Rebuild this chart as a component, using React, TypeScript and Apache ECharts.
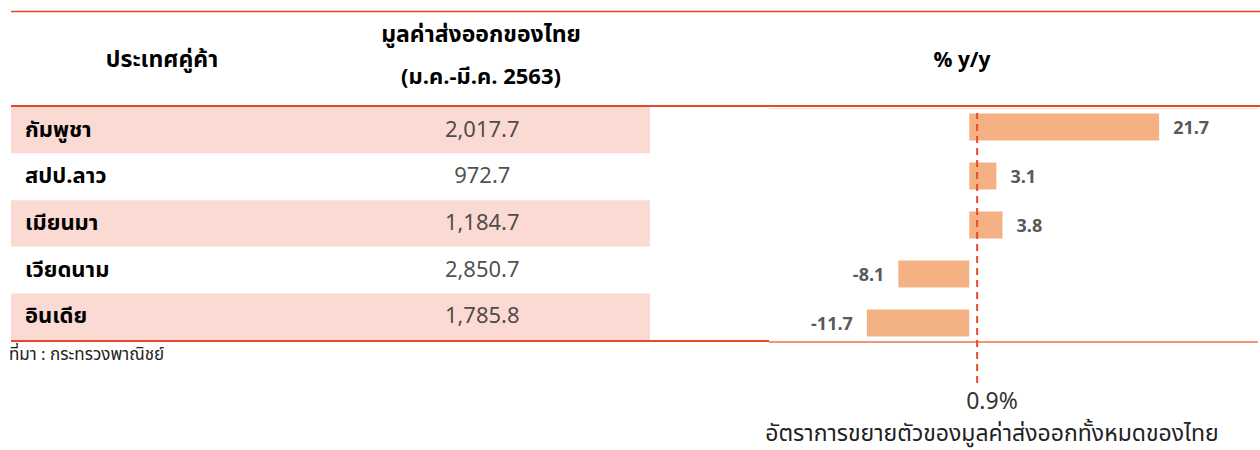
import React, { useEffect, useRef } from "react";
import * as echarts from "echarts";

const countries = ["กัมพูชา", "สปป.ลาว", "เมียนมา", "เวียดนาม", "อินเดีย"];
const exportValues = [2017.7, 972.7, 1184.7, 2850.7, 1785.8];
const growthYoY = [21.7, 3.1, 3.8, -8.1, -11.7];
const totalGrowth = 0.9;
const tableColumns = ["country", "value"];

const headerCountry = "ประเทศคู่ค้า";
const headerValue1 = "มูลค่าส่งออกของไทย";
const headerValue2 = "(ม.ค.-มี.ค. 2563)";
const headerGrowth = "% y/y";
const totalCaption = "อัตราการขยายตัวของมูลค่าส่งออกทั้งหมดของไทย";
const sourceNote = "ที่มา : กระทรวงพาณิชย์";

const THAI = '"Noto Sans Thai", "Noto Sans Thai UI", "Leelawadee UI", Tahoma, "Noto Sans", "DejaVu Sans", sans-serif';
const LINE = "#e44a26";

const fmt = (v: number) =>
  v.toLocaleString("en-US", { minimumFractionDigits: 1, maximumFractionDigits: 1 });

export default function App() {
  const ref = useRef<HTMLDivElement>(null);
  useEffect(() => {
    if (!ref.current) return;
    const chart = echarts.init(ref.current, undefined, { renderer: "svg" });
    const txt = (text: string, x: number, y: number, size: number, weight: any, fill: string, align = "center") => ({
      type: "text",
      x,
      y,
      silent: true,
      style: {
        text,
        fontSize: size,
        fontWeight: weight,
        fontFamily: THAI,
        fill,
        align,
        verticalAlign: "middle",
      },
    });
    const ln = (x1: number, y1: number, x2: number, y2: number, w: number, c: string) => ({
      type: "line",
      silent: true,
      shape: { x1, y1, x2, y2 },
      style: { stroke: c, lineWidth: w },
    });
    chart.setOption({
      animation: false,
      backgroundColor: "#ffffff",
      grid: [
        { left: 11, top: 107, width: 639, height: 233 },
        { left: 838, top: 102.5, width: 350, height: 245 },
        { left: 838, top: 113, width: 350, height: 270 },
      ],
      xAxis: [
        { gridIndex: 0, type: "category", data: tableColumns, show: false },
        { gridIndex: 1, type: "value", min: -15, max: 25, show: false },
        { gridIndex: 2, type: "value", min: -15, max: 25, show: false },
      ],
      yAxis: [
        {
          gridIndex: 0,
          type: "category",
          data: countries,
          inverse: true,
          axisLine: { show: false },
          axisTick: { show: false },
          splitLine: { show: false },
          splitArea: { show: true, areaStyle: { color: ["#fbdad4", "#ffffff"] } },
          axisLabel: {
            inside: true,
            margin: 14,
            fontSize: 22,
            fontWeight: "bold",
            color: "#000000",
            fontFamily: THAI,
          },
        },
        { gridIndex: 1, type: "category", data: countries, inverse: true, show: false },
        { gridIndex: 2, type: "value", min: 0, max: 1, show: false },
      ],
      series: [
        {
          type: "scatter",
          xAxisIndex: 0,
          yAxisIndex: 0,
          symbolSize: 0,
          data: exportValues.map((v, i) => [tableColumns[1], countries[i], v]),
          label: {
            show: true,
            position: "inside",
            offset: [-8, 0],
            formatter: (p: any) => fmt(p.value[2]),
            fontSize: 22,
            color: "#222222",
            fontFamily: THAI,
          },
        },
        {
          type: "bar",
          xAxisIndex: 1,
          yAxisIndex: 1,
          barWidth: 27,
          itemStyle: { color: "#f4b183" },
          data: growthYoY.map((v) => ({
            value: v,
            label: { position: v < 0 ? "left" : "right" },
          })),
          label: {
            show: true,
            distance: 14,
            fontSize: 18,
            fontWeight: "bold",
            color: "#595959",
            fontFamily: '"Open Sans", "Noto Sans", sans-serif',
            formatter: (p: any) => fmt(p.value),
          },
        },
        {
          type: "line",
          xAxisIndex: 2,
          yAxisIndex: 2,
          symbol: "none",
          data: [
            [totalGrowth, 0],
            [totalGrowth, 1],
          ],
          lineStyle: { color: "#ea4b2a", width: 2, type: [7, 5] },
        },
      ],
      graphic: [
        ln(11, 11.5, 1260, 11.5, 1.5, LINE),
        ln(11, 106, 1260, 106, 2.2, LINE),
        ln(769, 108.5, 1258, 108.5, 1, "#fbd9cf"),
        ln(11, 341, 769, 341, 2.2, LINE),
        ln(769, 342, 1258, 342, 2.2, "#f39379"),
        txt(headerCountry, 162, 60, 23, "bold", "#000000"),
        txt(headerValue1, 481, 35, 23, "bold", "#000000"),
        txt(headerValue2, 481, 77, 22, "bold", "#000000"),
        txt(headerGrowth, 962, 60, 21, "bold", "#000000"),
        txt(sourceNote, 9, 355, 17, "normal", "#222222", "left"),
        txt(`${totalGrowth}%`, 992, 402, 23, "normal", "#333333"),
        txt(totalCaption, 992, 434, 23, "normal", "#222222"),
      ],
    });
    return () => chart.dispose();
  }, []);
  return (
    <div
      ref={ref}
      style={{ position: "absolute", left: 0, top: 0, width: 1260, height: 450 }}
    />
  );
}
